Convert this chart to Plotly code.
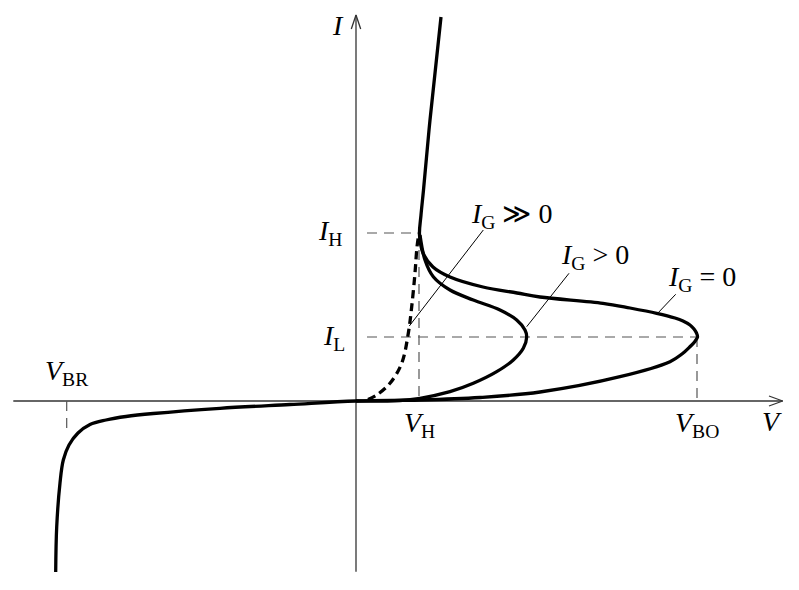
import plotly.graph_objects as go

# ---- characteristic levels (arbitrary units) ----
V_BR = -2.893
V_H = 0.63
V_BO = 3.41
I_H = 1.68
I_L = 0.64

# ---- I_G = 0 curve: reverse branch then forward branch ----
rev_v = [-3.003, -2.993, -2.96, -2.927, -2.87, -2.78, -2.66, -2.5, -2.3, -2.027, -1.36, -0.66, 0.0]
rev_i = [-1.71, -1.26, -0.82, -0.59, -0.44, -0.32, -0.235, -0.19, -0.155, -0.125, -0.073, -0.035, 0.0]

fwd0_v = [0.64, 1.24, 1.84, 2.64, 3.14, 3.26, 3.34, 3.385, 3.415, 3.405, 3.38, 3.34, 3.27,
          3.19, 3.007, 2.74, 2.47, 1.84, 1.61, 1.27, 0.94, 0.77, 0.67, 0.635, 0.65, 0.675,
          0.74, 0.85]
fwd0_i = [0.01, 0.035, 0.09, 0.243, 0.393, 0.47, 0.543, 0.59, 0.64, 0.68, 0.72, 0.76, 0.80,
          0.83, 0.877, 0.93, 0.977, 1.04, 1.08, 1.14, 1.24, 1.34, 1.48, 1.66, 1.86, 2.11,
          2.81, 3.84]

# ---- I_G > 0 curve ----
g1_v = [0.0, 0.44, 0.64, 0.94, 1.173, 1.407, 1.573, 1.673, 1.707, 1.69, 1.607, 1.44, 1.173,
        0.94, 0.773, 0.69, 0.64]
g1_i = [0.0, 0.005, 0.027, 0.093, 0.177, 0.293, 0.41, 0.527, 0.64, 0.71, 0.81, 0.91, 1.01,
        1.11, 1.243, 1.41, 1.66]

# ---- I_G >> 0 curve (dashed) ----
g2_v = [0.12, 0.207, 0.34, 0.457, 0.523, 0.557, 0.59, 0.61, 0.63]
g2_i = [0.015, 0.06, 0.177, 0.377, 0.677, 0.943, 1.28, 1.54, 1.68]

# ---- leader lines for the I_G labels: [label end, curve end] ----
lead_ggg_v = [1.273, 0.533]
lead_ggg_i = [1.71, 0.75]
lead_gt_v = [2.13, 1.707]
lead_gt_i = [1.277, 0.743]
lead_eq_v = [3.197, 3.007]
lead_eq_i = [1.067, 0.867]

# ---- axis extents ----
V_MIN, V_MAX = -3.427, 4.267
I_MIN, I_MAX = -1.707, 3.86

FONT = "Liberation Serif, Times New Roman, serif"
BLACK = "black"
AX = "#333333"
DASHC = "#555555"
FS = 28

fig = go.Figure()

def line(x, y, color=BLACK, width=1.0, dash=None, shape="linear"):
    fig.add_trace(go.Scatter(x=x, y=y, mode="lines", hoverinfo="skip",
                             line=dict(color=color, width=width, dash=dash, shape=shape)))

# axes
line([V_MIN, V_MAX], [0, 0], AX, 1.3)
line([0, 0], [I_MIN, I_MAX], AX, 1.3)
# arrow heads
line([V_MAX - 0.137, V_MAX, V_MAX - 0.137], [0.05, 0, -0.05], AX, 1.3)
line([-0.047, 0, 0.047], [I_MAX - 0.14, I_MAX, I_MAX - 0.14], AX, 1.3)

# reference dashed lines
dpat = "10px,7px"
line([0.11, V_H], [I_H, I_H], DASHC, 1.2, dpat)
line([0.11, V_BO], [I_L, I_L], DASHC, 1.2, dpat)
line([V_H, V_H], [I_H, 0], DASHC, 1.2, dpat)
line([V_BO, V_BO], [I_L, 0], DASHC, 1.2, dpat)
line([V_BR, V_BR], [0, -0.31], DASHC, 1.2, dpat)

# leader lines
line(lead_ggg_v, lead_ggg_i, BLACK, 1.0)
line(lead_gt_v, lead_gt_i, BLACK, 1.0)
line(lead_eq_v, lead_eq_i, BLACK, 1.0)

# curves
line(g2_v, g2_i, BLACK, 3.3, "8px,5px", "spline")
line(g1_v, g1_i, BLACK, 3.3, None, "spline")
line(rev_v + fwd0_v, rev_i + fwd0_i, BLACK, 3.3, None, "spline")

def label(text, x, y, xanchor="center", yanchor="middle", xs=0, ys=0):
    fig.add_annotation(x=x, y=y, text=text, showarrow=False, xanchor=xanchor,
                       yanchor=yanchor, xshift=xs, yshift=ys,
                       font=dict(family=FONT, size=FS, color=BLACK))

label("<i>I</i>", -0.185, 3.755)
label("<i>V</i>", 4.16, -0.2)
label("<i>I</i><sub>H</sub>", -0.125, I_H, "right", "middle", 0, 1)
label("<i>I</i><sub>L</sub>", -0.09, I_L, "right", "middle", 0, 0)
label("<i>V</i><sub>BR</sub>", V_BR, 0.1, "center", "bottom", 0, -1)
label("<i>V</i><sub>H</sub>", V_H, -0.06, "center", "top", 0, 2)
label("<i>V</i><sub>BO</sub>", V_BO, -0.06, "center", "top", 0, 2)
label("<i>I</i><sub>G</sub> ≫ 0", 1.555, 1.88, "center", "middle", 0, -2)
label("<i>I</i><sub>G</sub> &gt; 0", 2.39, 1.46, "center", "middle", 0, -1)
label("<i>I</i><sub>G</sub> = 0", 3.46, 1.245, "center", "middle", 0, -2)

fig.update_layout(
    width=799, height=590,
    margin=dict(l=0, r=0, t=0, b=0),
    paper_bgcolor="white", plot_bgcolor="white",
    showlegend=False,
    xaxis=dict(range=[-3.56, 4.43], visible=False, fixedrange=True),
    yaxis=dict(range=[-1.89, 4.01], visible=False, fixedrange=True),
)

fig.write_html("out.html", config={"displayModeBar": False},
               post_script="document.body.style.margin='0';")
